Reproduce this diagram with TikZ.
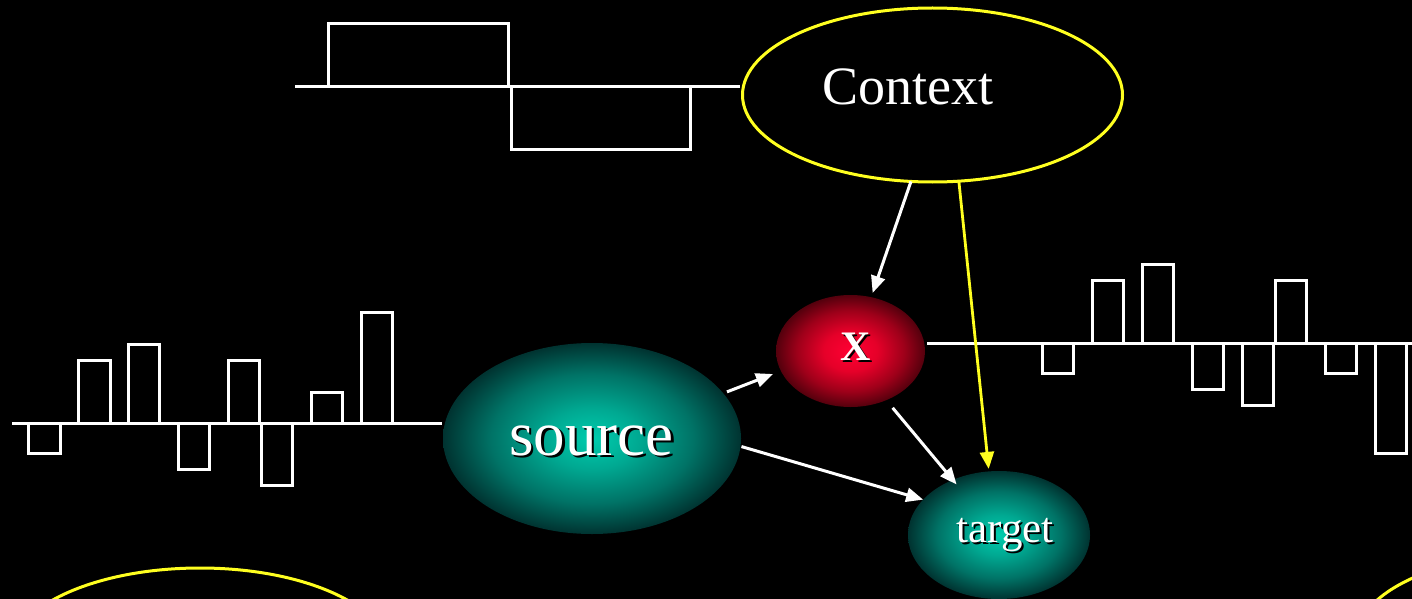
\documentclass[tikz,border=0pt]{standalone}
\usepackage{fontspec}
\setmainfont{Liberation Serif}
\usetikzlibrary{shapes.geometric,arrows.meta}
\definecolor{ylw}{HTML}{FFFF20}
\pgfdeclareradialshading{tealball}{\pgfpoint{0bp}{0bp}}{%
  rgb(0bp)=(0,0.80,0.68);
  rgb(8bp)=(0,0.66,0.57);
  rgb(17bp)=(0,0.45,0.40);
  rgb(25bp)=(0,0.20,0.19);
  rgb(50bp)=(0,0.20,0.19)}
\pgfdeclareradialshading{redball}{\pgfpoint{0bp}{0bp}}{%
  rgb(0bp)=(1,0,0.20);
  rgb(9bp)=(0.90,0,0.16);
  rgb(18bp)=(0.62,0,0.10);
  rgb(25bp)=(0.33,0,0.05);
  rgb(50bp)=(0.33,0,0.05)}
\begin{document}
\begin{tikzpicture}[x=1pt,y=-1pt,
  sig/.style={draw=white,line width=3pt},
  ctxell/.style={ellipse,draw=ylw,line width=3pt,inner sep=0pt,outer sep=0pt,minimum width=380pt,minimum height=174pt},
  ball/.style={ellipse,inner sep=0pt,outer sep=0pt},
  lbl/.style={text=white,inner sep=0pt,anchor=base},
  shd/.style={text=black,inner sep=0pt,anchor=base},
  arr/.style={draw=white,line width=3pt,-{Triangle[length=17pt,width=14pt]}},
  yarr/.style={draw=ylw,line width=2.8pt,-{Triangle[length=17pt,width=14pt]}}]
\useasboundingbox (0,0) rectangle (1412,599);
\fill[black] (0,0) rectangle (1412,599);

% top signal
\draw[sig] (295,87) -- (740,87);
\draw[sig] (328,24) rectangle (508,87);
\draw[sig] (511,87) rectangle (690,149);

% left signal
\draw[sig] (12,423) -- (442,423);
\draw[sig] (28,423) rectangle (60,453);
\draw[sig] (78,423) rectangle (110,360);
\draw[sig] (128,423) rectangle (159,344);
\draw[sig] (178,423) rectangle (209,469);
\draw[sig] (228,423) rectangle (259,360);
\draw[sig] (261,423) rectangle (292,485);
\draw[sig] (311,423) rectangle (342,392);
\draw[sig] (361,423) rectangle (392,312);

% right signal
\draw[sig] (927,343) -- (1412,343);
\draw[sig] (1042,343) rectangle (1073,373);
\draw[sig] (1092,343) rectangle (1123,280);
\draw[sig] (1142,343) rectangle (1173,264);
\draw[sig] (1192,343) rectangle (1223,389);
\draw[sig] (1242,343) rectangle (1273,405);
\draw[sig] (1275,343) rectangle (1306,280);
\draw[sig] (1325,343) rectangle (1356,373);
\draw[sig] (1375,343) rectangle (1406,453);

% context
\node[ctxell] (ctx) at (932.5,95) {};
\node[lbl,font=\fontsize{54}{60}\selectfont] (ctxt) at (908,105) {Context};

% bottom partial ellipses
\node[ctxell] (bl) at (200,655) {};
\node[ctxell] (br) at (1546,640) {};

% x node
\node[ball,shading=redball,minimum width=149pt,minimum height=112pt] (xn) at (850.5,351) {};
\node[shd,font=\fontsize{42}{48}\selectfont\bfseries] (xs) at (857.5,362) {X};
\node[lbl,font=\fontsize{42}{48}\selectfont\bfseries] (xt) at (855.5,360) {X};

% source
\node[ball,shading=tealball,minimum width=298pt,minimum height=191pt] (src) at (592,438.5) {};
\node[shd,font=\fontsize{63}{70}\selectfont] (srcs) at (594,457) {source};
\node[lbl,font=\fontsize{63}{70}\selectfont] (srct) at (591.5,455) {source};

% target
\node[ball,shading=tealball,minimum width=182pt,minimum height=128pt] (tgt) at (999,535) {};
\node[shd,font=\fontsize{43}{48}\selectfont] (tgts) at (1007,544) {target};
\node[lbl,font=\fontsize{43}{48}\selectfont] (tgtt) at (1005,542) {target};

% connectors
\draw[arr,shorten >=4.5pt] (ctx.256) -- (xn.69);
\draw[yarr,shorten >=2.5pt] (ctx.287) -- (tgt.99.5);
\draw[arr,shorten <=4pt,shorten >=8.5pt] (src.19) -- (xn.196.5);
\draw[arr,shorten <=10pt,shorten >=-6pt] (xn.306.7) -- (tgt.130.7);
\draw[arr,shorten <=1pt] (src.357.5) -- (tgt.155.6);
\end{tikzpicture}
\end{document}
